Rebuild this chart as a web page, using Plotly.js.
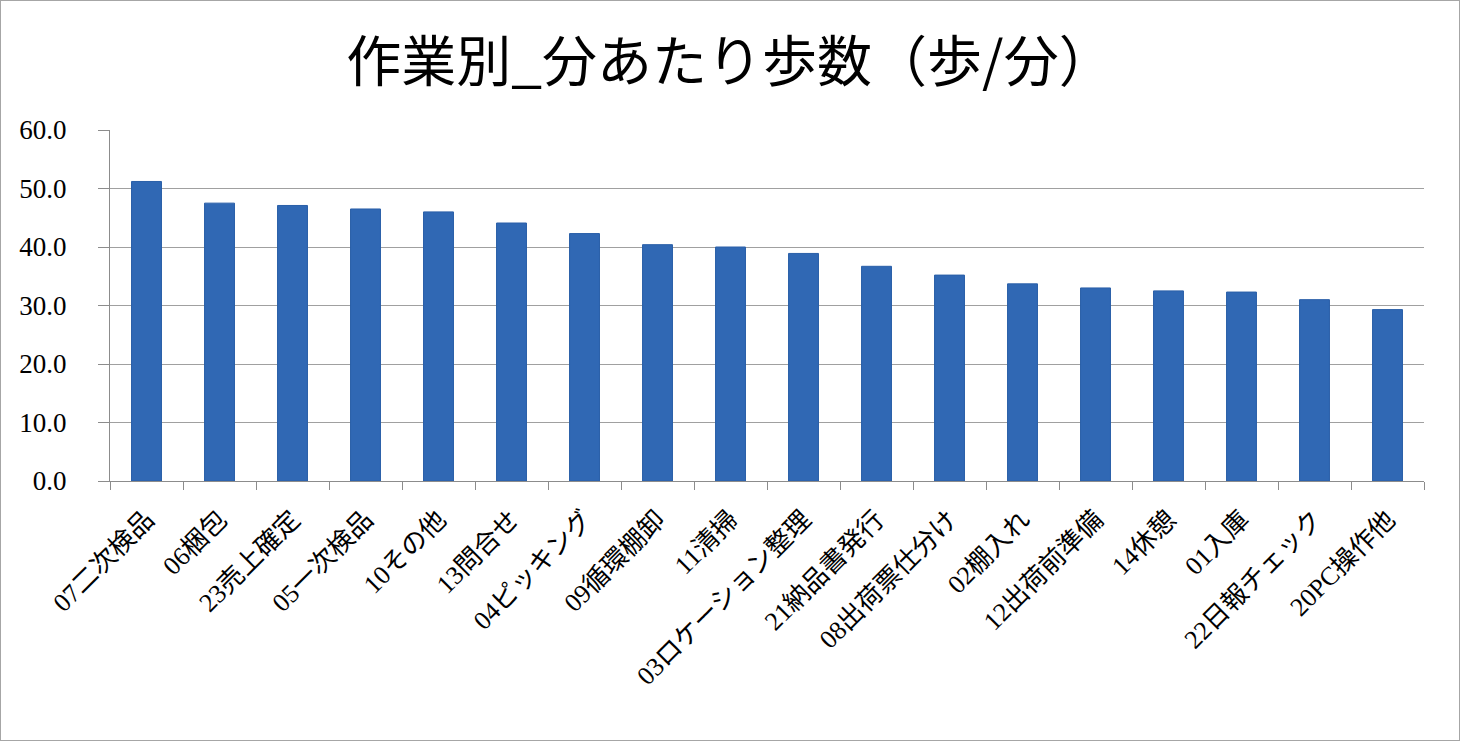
<!DOCTYPE html>
<html>
<head>
<meta charset="utf-8">
<script src="https://cdn.plot.ly/plotly-3.0.1.min.js"></script>
<style>
html,body{margin:0;padding:0;background:#fff;}
#chart{width:1458px;height:739px;border:1px solid #a6a6a6;}
</style>
</head>
<body>
<div id="chart"></div>
<script>
const categories = ["07二次検品","06梱包","23売上確定","05一次検品","10その他","13問合せ","04ピッキング","09循環棚卸","11清掃","03ロケーション整理","21納品書発行","08出荷票仕分け","02棚入れ","12出荷前準備","14休憩","01入庫","22日報チェック","20PC操作他"];
const stepsPerMinute = [51.2,47.5,47.1,46.5,46.0,44.1,42.3,40.4,40.0,38.9,36.7,35.2,33.7,33.0,32.5,32.3,31.0,29.3];
const titleText = "作業別_分あたり歩数（歩/分）";

const serif = '"Liberation Serif", "Times New Roman", "Noto Sans CJK JP", serif';

Plotly.newPlot('chart', [{
  type: 'bar',
  x: categories,
  y: stepsPerMinute,
  marker: {color: '#3068b4', line: {color: '#2a5fa8', width: 1}},
  hoverinfo: 'x+y'
}], {
  width: 1458, height: 739,
  margin: {l: 109, r: 35, t: 129, b: 259},
  paper_bgcolor: '#fff', plot_bgcolor: '#fff',
  showlegend: false,
  title: {
    text: titleText,
    font: {family: '"Noto Sans CJK JP", sans-serif', size: 55, color: '#000'},
    x: 0.5, xref: 'container', xanchor: 'center',
    y: 1 - 61/739, yref: 'container', yanchor: 'middle'
  },
  bargap: 0.59,
  xaxis: {
    type: 'category',
    tickangle: -45,
    tickson: 'boundaries',
    ticks: 'outside', ticklen: 8, tickcolor: '#8c8c8c',
    showline: true, linecolor: '#8c8c8c', linewidth: 1,
    showgrid: false,
    ticklabelstandoff: 12,
    tickfont: {family: serif, size: 26, color: '#000'}
  },
  yaxis: {
    range: [0, 60],
    dtick: 10,
    tickformat: '.1f',
    ticks: 'outside', ticklen: 11, tickcolor: '#8c8c8c',
    showline: true, linecolor: '#8c8c8c', linewidth: 1,
    showgrid: true, gridcolor: '#a0a0a0', gridwidth: 1,
    zeroline: false,
    ticklabelstandoff: 26,
    tickfont: {family: serif, size: 27, color: '#000'}
  }
}, {displayModeBar: false, staticPlot: true});
</script>
</body>
</html>
